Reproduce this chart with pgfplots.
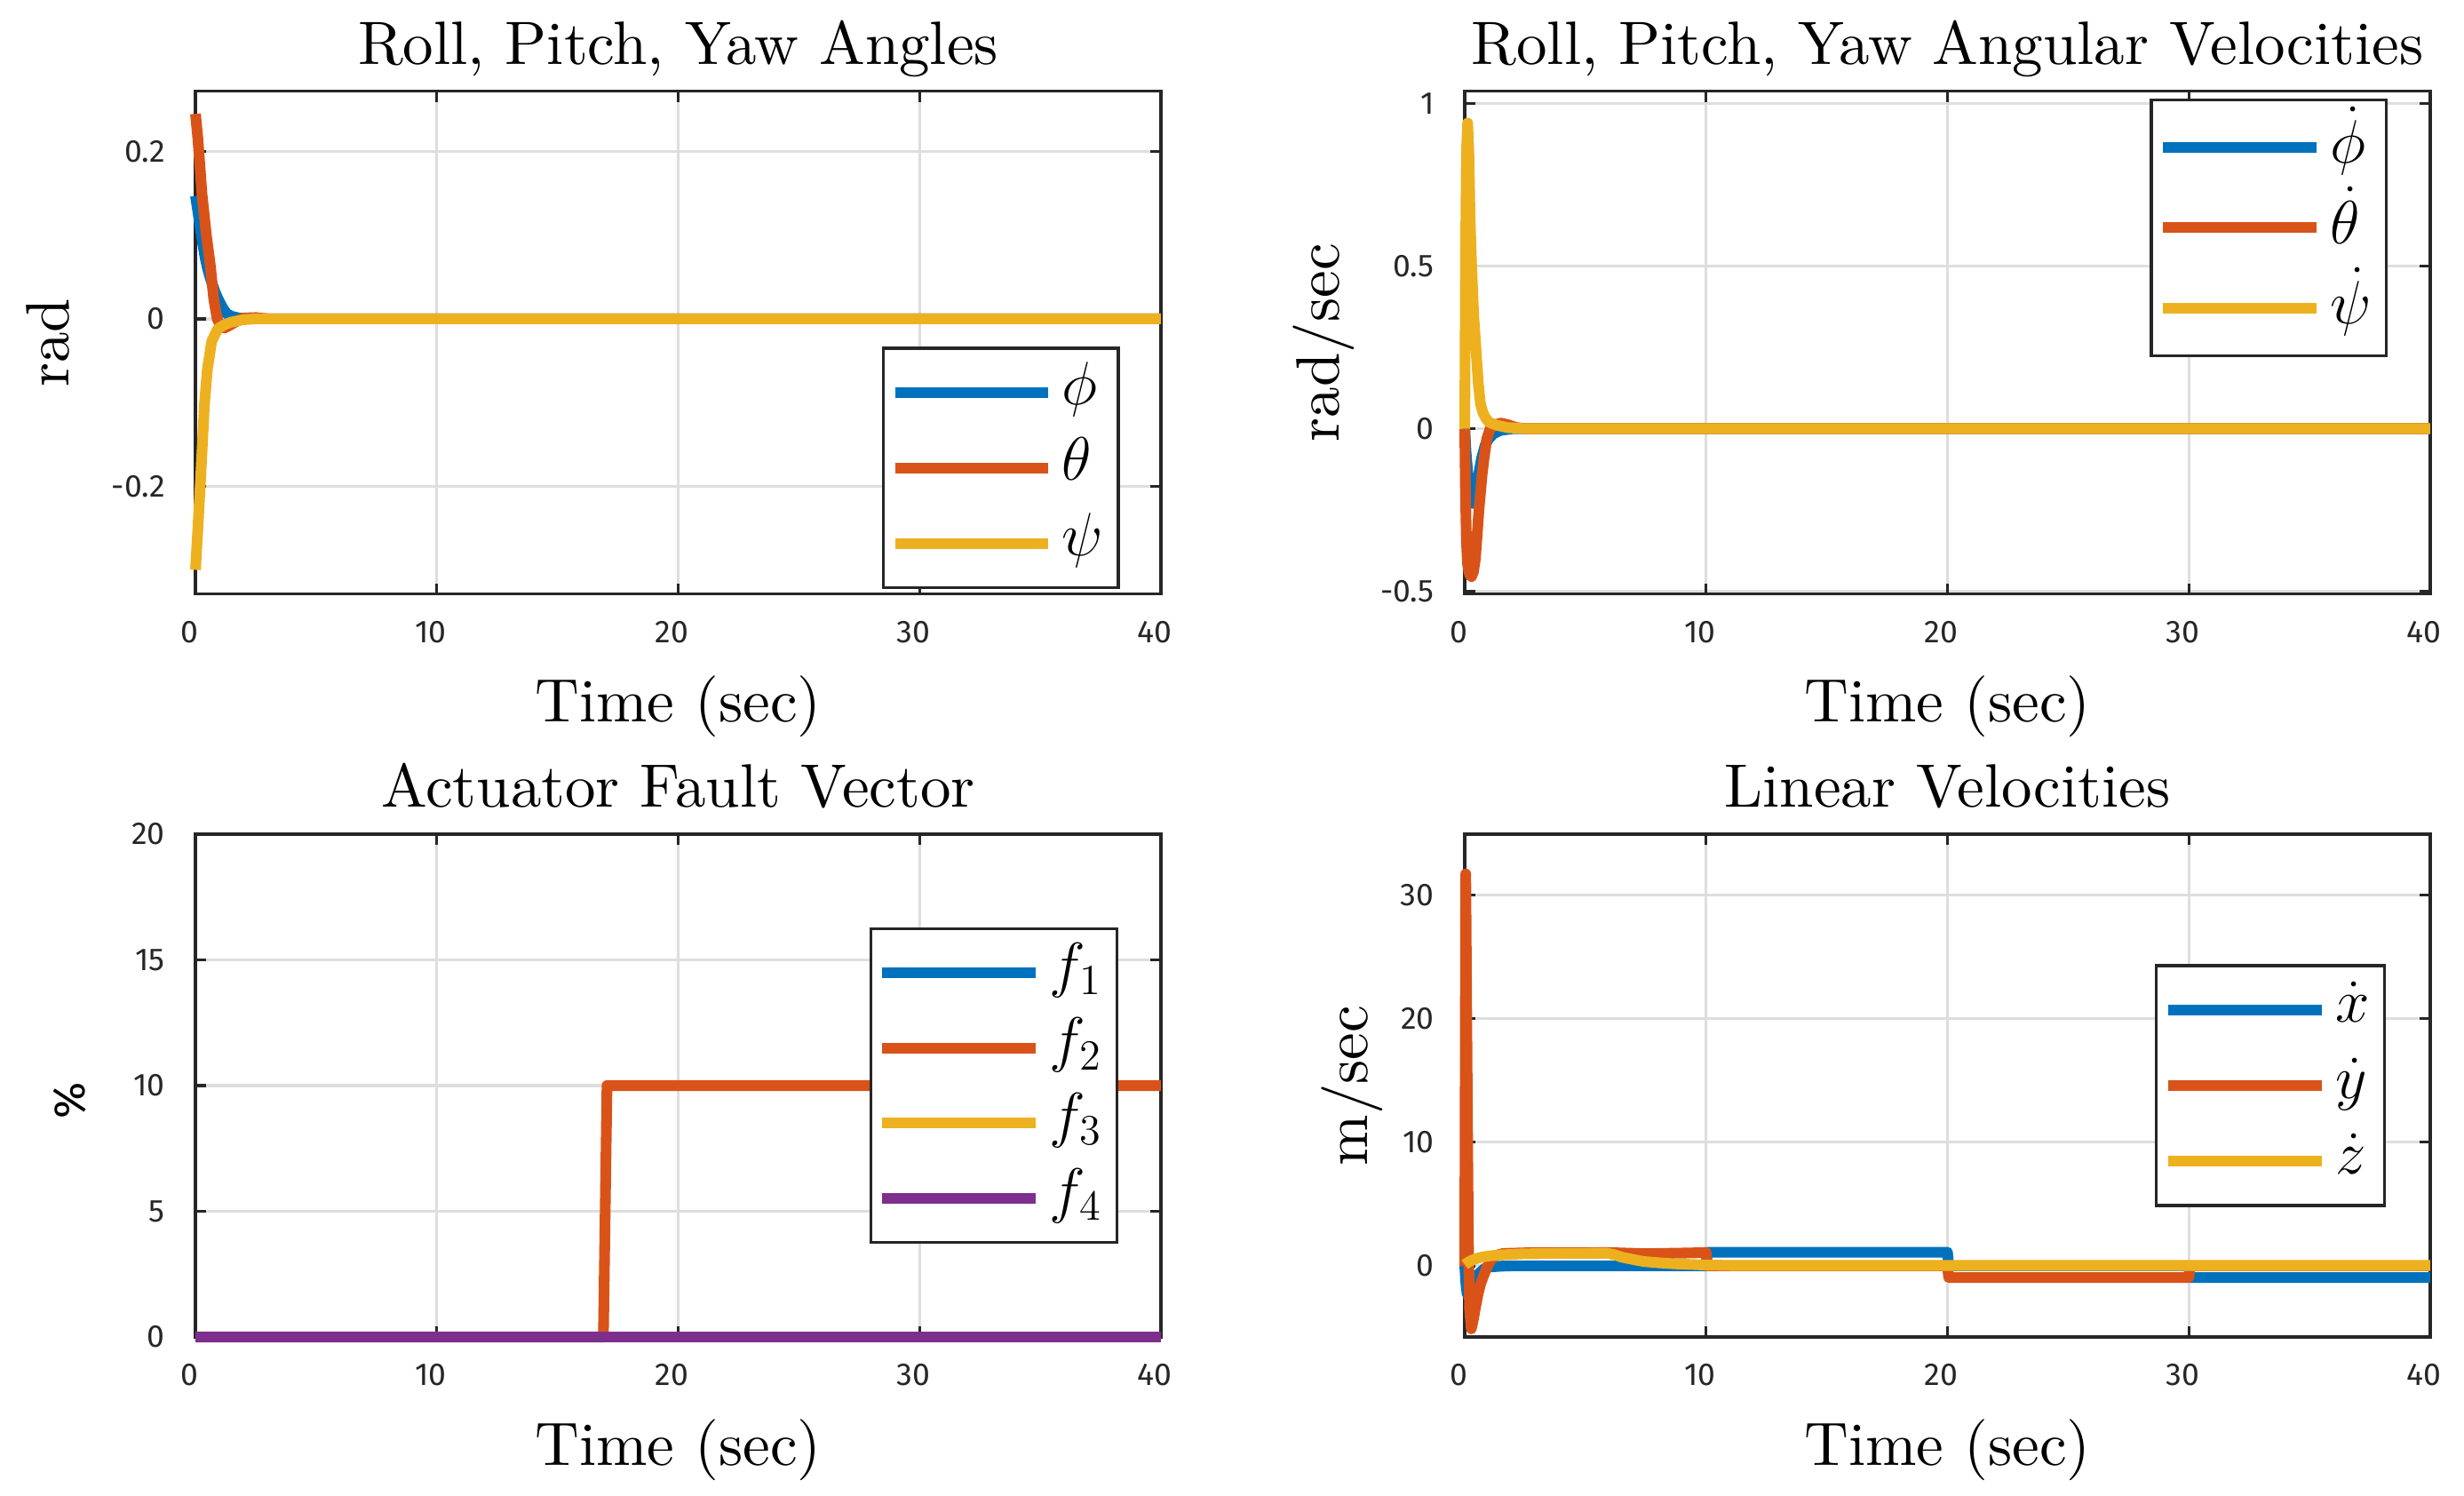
\RequirePackage{fix-cm}
\documentclass[border=0pt]{standalone}
\usepackage{fontspec}
\setmainfont{lmroman10-regular.otf}
\usepackage{pgfplots}
\pgfplotsset{compat=1.18}

\newfontfamily\tickfam{Fira Sans}
\newcommand\tickfont{\tickfam\fontsize{10}{12}\selectfont}
\newcommand\bigfont{\fontsize{19.4}{23}\selectfont}

% MATLAB default line colours
\definecolor{c1}{rgb}{0,0.447,0.741}
\definecolor{c2}{rgb}{0.85,0.325,0.098}
\definecolor{c3}{rgb}{0.929,0.694,0.125}
\definecolor{c4}{rgb}{0.494,0.184,0.556}
\definecolor{axgray}{gray}{0.15}
\definecolor{gridgray}{gray}{0.87}

\pgfplotsset{
  mlab/.style={
    scale only axis, width=305.7pt, height=159.2pt, anchor=south west,
    xmin=0, xmax=40, xtick={0,10,20,30,40},
    clip=false,
    grid=major, major grid style={line width=0.9pt, draw=gridgray},
    axis line style={line width=0.94pt, draw=axgray},
    tick style={line width=0.94pt, draw=axgray},
    tick align=inside, tickpos=both, major tick length=3.4pt,
    /pgf/number format/assume math mode=true,
    ticklabel style={font=\tickfont, text=axgray},
    xticklabel style={anchor=base, yshift=-15.3pt, xshift=-2pt},
    yticklabel style={anchor=east, inner sep=0pt, xshift=-9.5pt},
    title style={font=\bigfont, at={(axis description cs:0.5,1)}, anchor=base, yshift=2.6pt},
    xlabel={Time (sec)},
    xlabel style={font=\bigfont, at={(axis description cs:0.5,0)}, anchor=base, yshift=-40.5pt},
    ylabel style={font=\bigfont, anchor=base},
    legend image code/.code={\draw[##1, line cap=butt] (0pt,0pt) -- (48.6pt,0pt);},
    legend style={draw=axgray, line width=0.94pt, fill=white, inner xsep=2pt,
      column sep=0pt, font=\bigfont, legend cell align=left},
    every axis plot/.append style={line width=3.4pt, line cap=butt, line join=round},
    cycle list={{c1},{c2},{c3},{c4}},
  },
  leg3/.style={legend style={inner ysep=5pt, row sep=5.9pt,
      nodes={inner ysep=0pt, inner xsep=2.7pt, text height=13pt, text depth=5pt}}},
}

\begin{document}
\begin{tikzpicture}
\useasboundingbox (0,0) rectangle (780.2pt,473.6pt);

% ---------- roll, pitch, yaw angles ----------
\begin{axis}[mlab, leg3, at={(61.9pt,285.5pt)},
    ymin=-0.329, ymax=0.272, ytick={-0.2,0,0.2},
    title={Roll, Pitch, Yaw Angles},
    ylabel={rad},
    ylabel style={at={([xshift=-40pt]axis description cs:0,0.5)}},
    legend style={at={(axis description cs:1,0)}, anchor=south east, xshift=-13pt, yshift=1.6pt}]
\addplot coordinates {(0,0.147) (0.1,0.128) (0.2,0.108) (0.3,0.09) (0.4,0.073) (0.5,0.06)
  (0.6,0.05) (0.7,0.041) (0.8,0.033) (0.9,0.026) (1.0,0.02) (1.15,0.012) (1.3,0.006)
  (1.5,0.003) (1.8,0.001) (2.2,0) (40,0)};
\addplot coordinates {(0,0.245) (0.1,0.215) (0.27,0.149) (0.45,0.1) (0.61,0.065) (0.76,0.023)
  (0.9,0.0) (1.05,-0.009) (1.2,-0.011) (1.4,-0.008) (1.7,-0.003) (2.0,0.001) (2.5,0.0015)
  (3,0) (40,0)};
\addplot coordinates {(0,-0.3) (0.1,-0.25) (0.22,-0.187) (0.37,-0.103) (0.49,-0.061)
  (0.67,-0.027) (0.92,-0.012) (1.2,-0.007) (1.47,-0.004) (2,-0.001) (2.5,0) (40,0)};
\legend{$\phi$, $\theta$, $\psi$}
\end{axis}

% ---------- angular velocities ----------
\begin{axis}[mlab, at={(463.8pt,285.5pt)},
    ymin=-0.509, ymax=1.038, ytick={-0.5,0,0.5,1},
    title={Roll, Pitch, Yaw Angular Velocities},
    ylabel={rad/sec},
    ylabel style={at={([xshift=-39.7pt]axis description cs:0,0.5)}},
    legend style={at={(axis description cs:1,1)}, anchor=north east, xshift=-13.4pt, yshift=-2.25pt,
      inner ysep=4pt, row sep=3.5pt,
      nodes={inner ysep=0pt, inner xsep=2.7pt, text height=16pt, text depth=6pt}}]
\addplot coordinates {(0,0) (0.05,-0.07) (0.15,-0.16) (0.25,-0.21) (0.33,-0.23) (0.4,-0.22)
  (0.5,-0.18) (0.6,-0.13) (0.7,-0.09) (0.85,-0.05) (1.0,-0.03) (1.2,-0.015) (1.5,-0.005)
  (2,0) (40,0)};
\addplot coordinates {(0,0) (0.03,-0.2) (0.07,-0.35) (0.12,-0.42) (0.2,-0.45) (0.28,-0.455)
  (0.36,-0.44) (0.44,-0.4) (0.52,-0.32) (0.59,-0.247) (0.66,-0.19) (0.72,-0.14) (0.8,-0.09)
  (0.91,-0.032) (1.05,0.0) (1.25,0.012) (1.5,0.017) (1.8,0.012) (2.1,0.004) (2.5,0) (40,0)};
\addplot coordinates {(0,0) (0.03,0.5) (0.07,0.85) (0.12,0.94) (0.17,0.85) (0.22,0.65)
  (0.28,0.508) (0.37,0.35) (0.47,0.238) (0.56,0.14) (0.65,0.076) (0.75,0.05) (0.87,0.032)
  (1.0,0.02) (1.3,0.011) (1.8,0.003) (2.5,0) (40,0)};
\legend{$\dot{\phi}$, $\dot{\theta}$, $\dot{\psi}$}
\end{axis}

% ---------- actuator fault vector ----------
\begin{axis}[mlab, at={(61.9pt,50.3pt)},
    ymin=0, ymax=20, ytick={0,5,10,15,20},
    title={Actuator Fault Vector},
    ylabel={\%},
    ylabel style={font=\tickfam\fontsize{14}{16}\selectfont,
      at={([xshift=-35pt,yshift=-4.8pt]axis description cs:0,0.5)}},
    legend style={at={(axis description cs:1,0.5)}, anchor=east, xshift=-13.5pt,
      inner ysep=5pt, row sep=5.8pt,
      nodes={inner ysep=0pt, inner xsep=2.7pt, text height=13pt, text depth=5pt}}]
\addplot coordinates {(0,0) (40,0)};
\addplot coordinates {(0,0) (16.9,0) (17.05,10) (40,10)};
\addplot coordinates {(0,0) (40,0)};
\addplot coordinates {(0,0) (40,0)};
\legend{$f_1$, $f_2$, $f_3$, $f_4$}
\end{axis}

% ---------- linear velocities ----------
\begin{axis}[mlab, leg3, at={(463.8pt,50.3pt)},
    ymin=-5.76, ymax=34.92, ytick={0,10,20,30},
    title={Linear Velocities},
    ylabel={m/sec},
    ylabel style={at={([xshift=-30.8pt]axis description cs:0,0.5)}},
    legend style={at={(axis description cs:1,0.5)}, anchor=east, xshift=-14pt, row sep=6pt}]
\addplot coordinates {(0,0) (0.05,-1.5) (0.1,-2.3) (0.2,-2.5) (0.3,-2.2) (0.4,-1.6) (0.5,-1.0)
  (0.6,-0.6) (0.8,-0.25) (1.0,-0.1) (1.5,-0.03) (2,0) (10,0) (10.05,1.1) (20,1.1) (20.05,0)
  (30,0) (30.05,-0.95) (40,-0.95)};
\addplot coordinates {(0,0) (0.04,31.7) (0.1,15) (0.15,2) (0.2,-3.5) (0.27,-5.1) (0.35,-4.4)
  (0.45,-3.3) (0.55,-2.3) (0.65,-1.5) (0.8,-0.7) (0.95,0) (1.1,0.5) (1.3,0.85) (1.6,1.0)
  (2.5,1.05) (6,1.07) (7.5,0.98) (9,1.03) (10,1.07) (10.05,0) (20,0) (20.05,-0.95) (30,-0.95)
  (30.05,0) (40,0)};
\addplot coordinates {(0,0.1) (0.1,0.25) (0.3,0.45) (0.6,0.66) (1.0,0.8) (1.5,0.88) (2.4,0.97)
  (4,1.0) (5.9,1.02) (6.2,0.9) (6.5,0.7) (7,0.5) (7.4,0.35) (8,0.25) (8.7,0.16) (9.9,0.07)
  (11,0.03) (40,0.03)};
\legend{$\dot{x}$, $\dot{y}$, $\dot{z}$}
\end{axis}
\end{tikzpicture}
\end{document}
